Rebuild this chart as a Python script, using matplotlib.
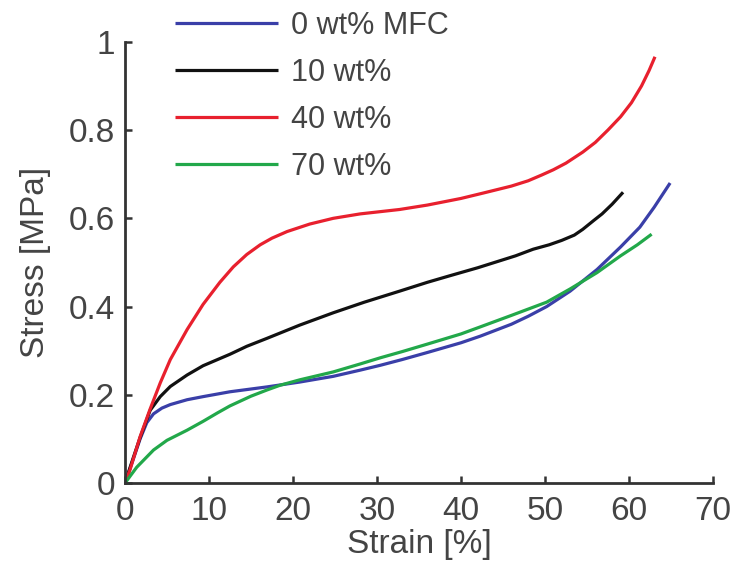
import matplotlib
matplotlib.use("Agg")
import matplotlib.pyplot as plt
import numpy as np

plt.rcParams['font.family'] = ['Liberation Sans', 'DejaVu Sans']

# strain [%] / stress [MPa]
strain_0 = [0, 1, 1.8, 2.6, 3.4, 4.4, 5.4, 7.4, 9.3, 12.5, 16.9, 20.8, 24.8, 28, 30.4, 33, 36, 40, 42.3, 46, 48, 50.2, 53, 56.2, 59, 61.3, 63, 64.9]
stress_0 = [0, 0.055, 0.1, 0.137, 0.157, 0.17, 0.178, 0.189, 0.196, 0.207, 0.218, 0.229, 0.242, 0.256, 0.267, 0.28, 0.296, 0.318, 0.333, 0.36, 0.378, 0.40, 0.435, 0.484, 0.535, 0.58, 0.625, 0.68]

strain_10 = [0, 1, 1.8, 3, 4.2, 5.4, 7.4, 9.3, 12.5, 14.5, 16.9, 20.8, 24.8, 28.5, 32.7, 36, 38.7, 42, 44, 46.5, 48.6, 50.5, 52, 53.5, 54.5, 55.8, 56.8, 58, 59.3]
stress_10 = [0, 0.058, 0.103, 0.165, 0.196, 0.219, 0.245, 0.266, 0.292, 0.31, 0.328, 0.358, 0.386, 0.41, 0.435, 0.455, 0.47, 0.488, 0.50, 0.515, 0.53, 0.54, 0.55, 0.562, 0.575, 0.595, 0.61, 0.632, 0.659]

strain_40 = [0, 0.6, 1.8, 3, 4.2, 5.4, 7.4, 9.3, 11.3, 12.9, 14.5, 16.1, 17.5, 19.3, 22, 24.8, 28, 32.7, 36, 40, 42.6, 46, 48, 49.6, 51, 52.5, 54.5, 56, 57.5, 59, 60.3, 61.5, 62.4, 63.1]
stress_40 = [0, 0.03, 0.105, 0.168, 0.227, 0.28, 0.348, 0.405, 0.455, 0.49, 0.518, 0.54, 0.555, 0.57, 0.587, 0.6, 0.61, 0.62, 0.63, 0.645, 0.657, 0.673, 0.685, 0.698, 0.71, 0.725, 0.75, 0.772, 0.8, 0.83, 0.862, 0.9, 0.935, 0.966]

strain_70 = [0, 1.4, 3.4, 5, 7.4, 9.3, 11, 12.5, 15, 16.9, 18.5, 20.8, 24.8, 28, 30.4, 33, 36, 40, 42.3, 46, 50.2, 53, 56.2, 59, 61, 62.7]
stress_70 = [0, 0.036, 0.075, 0.097, 0.12, 0.14, 0.159, 0.175, 0.197, 0.211, 0.222, 0.234, 0.252, 0.27, 0.284, 0.298, 0.315, 0.338, 0.354, 0.38, 0.41, 0.44, 0.477, 0.515, 0.54, 0.564]

labels = ['0 wt% MFC', '10 wt%', '40 wt%', '70 wt%']
colors = ['#3a3fa8', '#111111', '#e8202e', '#22a84a']

fig = plt.figure(figsize=(7.35, 5.8), dpi=100)
ax = fig.add_axes([0.170, 0.167, 0.800, 0.761])

for sx, sy, lab, col in zip([strain_0, strain_10, strain_40, strain_70],
                            [stress_0, stress_10, stress_40, stress_70], labels, colors):
    ax.plot(sx, sy, color=col, lw=2.3, label=lab, solid_capstyle='butt', solid_joinstyle='round')

ax.set_xlim(0, 70)
ax.set_ylim(0, 1)
ax.set_xticks(np.arange(0, 71, 10))
ax.set_yticks([0, 0.2, 0.4, 0.6, 0.8, 1])
ax.set_yticklabels(['0', '0.2', '0.4', '0.6', '0.8', '1'])
for s in ['top', 'right']:
    ax.spines[s].set_visible(False)
for s in ['left', 'bottom']:
    ax.spines[s].set_color('#333333')
    ax.spines[s].set_linewidth(2)
ax.tick_params(direction='in', length=5, width=1.8, color='#333333',
               labelsize=24, labelcolor='#444444')
ax.tick_params(axis='x', pad=9)
ax.tick_params(axis='y', pad=7)
ax.set_xlabel('Strain [%]', fontsize=24, color='#444444', labelpad=2)
ax.set_ylabel('Stress [MPa]', fontsize=24, color='#444444', labelpad=13)

leg = fig.legend(loc='upper left', bbox_to_anchor=(0.222, 1.0025), frameon=False,
                 fontsize=22, handlelength=3.37, handletextpad=0.4,
                 labelspacing=0.56, borderaxespad=0)
for t in leg.get_texts():
    t.set_color('#444444')

plt.savefig("out.png")
